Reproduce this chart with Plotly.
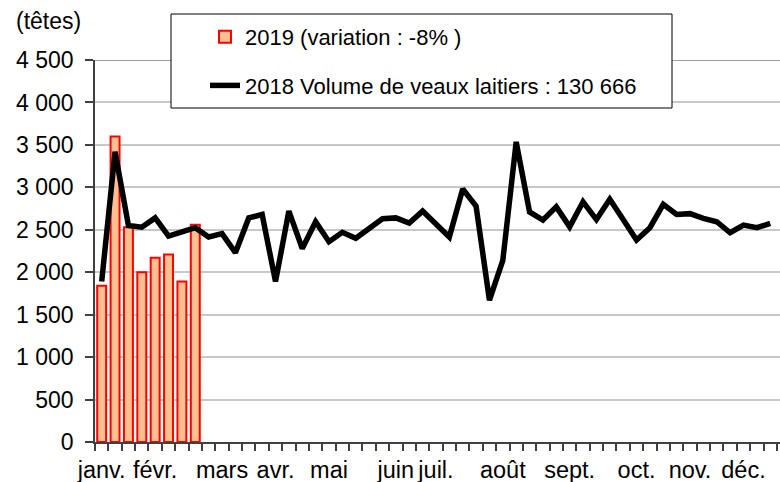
import plotly.graph_objects as go

# 2019 weekly volumes (first 8 weeks)
weeks_2019 = list(range(8))
values_2019 = [1840, 3600, 2530, 2000, 2170, 2210, 1890, 2560]

# 2018 weekly volumes
weeks_2018 = list(range(51))
values_2018 = [1890, 3420, 2550, 2530, 2640, 2425, 2475, 2525, 2415, 2455,
               2230, 2640, 2680, 1890, 2720, 2280, 2595, 2360, 2470, 2400,
               2515, 2630, 2640, 2580, 2720, 2575, 2415, 2980, 2780, 1670,
               2140, 3535, 2710, 2615, 2770, 2535, 2830, 2620, 2860, 2620,
               2380, 2525, 2800, 2680, 2690, 2635, 2595, 2465, 2555, 2525,
               2575]

month_pos = [0, 4, 9, 13, 17, 22, 25, 30, 35, 40, 44, 48]
month_labels = ["janv.", "févr.", "mars", "avr.", "mai", "juin", "juil.",
                "août", "sept.", "oct.", "nov.", "déc."]

y_ticks = [0, 500, 1000, 1500, 2000, 2500, 3000, 3500, 4000, 4500]
y_labels = ["0", "500", "1 000", "1 500", "2 000", "2 500", "3 000",
            "3 500", "4 000", "4 500"]

FONT = "Liberation Sans, Arial, sans-serif"

fig = go.Figure()
fig.add_trace(go.Bar(
    x=weeks_2019, y=values_2019, name="2019 (variation : -8% )",
    marker=dict(color="#FAC090", line=dict(color="#FF0000", width=2)),
    legendgroup="a",
))
fig.add_trace(go.Scatter(
    x=weeks_2018, y=values_2018, mode="lines",
    name="2018 Volume de veaux laitiers : 130 666",
    line=dict(color="#000000", width=5.5),
    legendgroup="b",
))

fig.update_layout(
    width=780, height=482,
    margin=dict(l=95, r=0, t=60, b=40, autoexpand=False),
    paper_bgcolor="white", plot_bgcolor="white",
    font=dict(family=FONT, size=22, color="black"),
    bargap=0.33,
    showlegend=True,
    legend=dict(x=(205 - 95) / 685, y=(442 - 16) / 382,
                xanchor="left", yanchor="top",
                bgcolor="rgba(0,0,0,0)", borderwidth=0,
                font=dict(size=22), tracegroupgap=17,
                traceorder="grouped"),
    xaxis=dict(range=[-0.5, 50.73], tickmode="array", tickvals=month_pos,
               ticktext=month_labels, ticks="", showgrid=False,
               showline=True, linecolor="#404040", linewidth=1.5,
               zeroline=False, tickfont=dict(size=23.5), automargin=False,
               ticklabelstandoff=6,
               minor=dict(tickmode="linear", tick0=-0.5, dtick=1,
                          ticks="outside", ticklen=7, tickcolor="#404040",
                          tickwidth=1.5, showgrid=False)),
    yaxis=dict(range=[0, 4500], tickmode="array", tickvals=y_ticks,
               ticktext=y_labels, ticks="outside", ticklen=8,
               tickcolor="#404040", tickwidth=1.5,
               showgrid=True, gridcolor="#C8C8C8", gridwidth=1.5,
               showline=True, linecolor="#404040", linewidth=1.5,
               zeroline=False, tickfont=dict(size=23), automargin=False,
               ticklabelstandoff=7),
    shapes=[
        dict(type="line", xref="paper", yref="y", x0=0, x1=1, y0=4500, y1=4500,
             line=dict(color="#808080", width=1.5), layer="above"),
        dict(type="rect", xref="paper", yref="paper",
             x0=(171 - 95) / 685, x1=(672 - 95) / 685,
             y0=(442 - 108) / 382, y1=(442 - 14) / 382,
             fillcolor="white", line=dict(color="#000000", width=1),
             layer="above"),
    ],
    annotations=[
        dict(text="(têtes)", xref="paper", yref="paper",
             x=(14 - 95) / 685, y=(442 - 21) / 382,
             xanchor="left", yanchor="middle", showarrow=False,
             font=dict(size=23)),
    ],
)

fig.write_html("out.html",
               config={"displayModeBar": False},
               post_script="document.body.style.margin='0';"
                           "document.body.style.padding='0';")
